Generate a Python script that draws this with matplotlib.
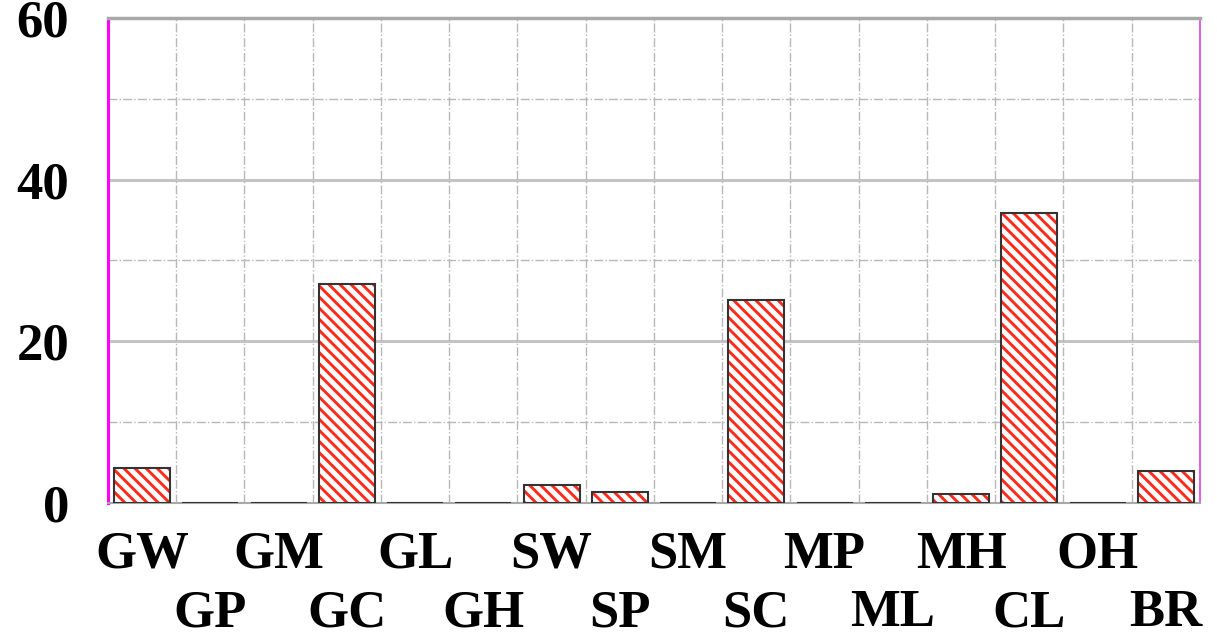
import numpy as np
import matplotlib
matplotlib.use("Agg")
import matplotlib.pyplot as plt

# soil classes and their percentages
classes = ['GW', 'GP', 'GM', 'GC', 'GL', 'GH', 'SW', 'SP',
           'SM', 'SC', 'MP', 'ML', 'MH', 'CL', 'OH', 'BR']
values = [4.3, 0, 0, 27.1, 0, 0, 2.2, 1.3,
          0, 25.1, 0, 0, 1.1, 35.9, 0, 4.0]
yticks = [0, 20, 40, 60]

plt.rcParams['hatch.linewidth'] = 2.1

fig = plt.figure(figsize=(12.17, 6.44), dpi=100)
ax = fig.add_axes([0.0887, 0.219, 0.8973, 0.753])

x = np.arange(len(classes))

# grid: solid at 20/40, dash-dot in between, dash-dot verticals between bars
for y in [20, 40]:
    ax.axhline(y, color='#c4c4c4', lw=2.2, zorder=1)
for y in [10, 30, 50]:
    ax.axhline(y, color='#b8b8b8', lw=1.0, ls='-.', zorder=1)
for b in x[:-1] + 0.5:
    ax.axvline(b, color='#b8b8b8', lw=1.0, ls='-.', zorder=1)

# hatched red fill, then dark outline on top
ax.bar(x, values, width=0.82, color='white', edgecolor='#ff2a1a',
       hatch='\\\\\\', lw=0, zorder=2)
ax.bar(x, values, width=0.82, fill=False, edgecolor='#333333', lw=1.5, zorder=3)

ax.set_xlim(-0.5, len(classes) - 0.5)
ax.set_ylim(0, 60)

ax.spines['left'].set_color('#ff00ff')
ax.spines['left'].set_linewidth(2.2)
ax.spines['right'].set_color('#e040e0')
ax.spines['right'].set_linewidth(1.2)
ax.spines['top'].set_color('#a8a8a8')
ax.spines['top'].set_linewidth(2.5)
ax.spines['bottom'].set_color('#a8a8a8')
ax.spines['bottom'].set_linewidth(1.5)

font = dict(family='Liberation Serif', weight='bold', size=38)

ax.set_yticks(yticks)
ax.set_yticklabels([str(v) for v in yticks], **font)
ax.tick_params(axis='y', length=0, pad=28)

# staggered category labels: even on first row, odd on second
ax.set_xticks(x[::2])
ax.set_xticklabels(classes[::2], **font)
ax.set_xticks(x[1::2], minor=True)
ax.set_xticklabels(classes[1::2], minor=True, **font)
ax.tick_params(axis='x', which='major', length=0, pad=20)
ax.tick_params(axis='x', which='minor', length=0, pad=62)

fig.savefig('out.png', dpi=100)
